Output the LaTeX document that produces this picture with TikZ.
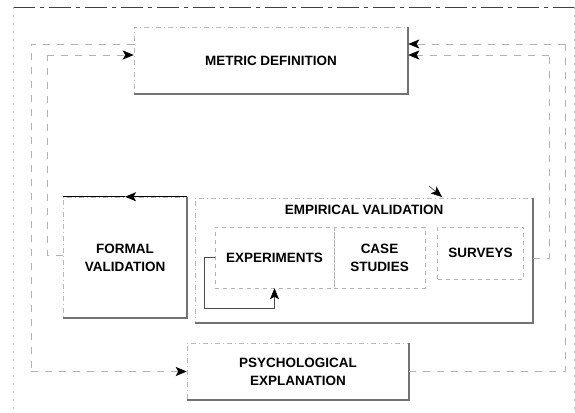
\documentclass[tikz,border=0pt]{standalone}
\usepackage{fontspec}
\setmainfont{Liberation Sans}
\usetikzlibrary{arrows.meta}
\begin{document}
\begin{tikzpicture}[x=1pt,y=-1pt,
  boxtext/.style={font=\bfseries\fontsize{13.5}{18}\selectfont, align=center},
  panel/.style={draw=gray!55, line width=0.5pt,
    dash pattern=on 5pt off 3pt on 1pt off 3pt, inner sep=0pt},
  subpanel/.style={draw=gray!60, line width=0.5pt,
    dash pattern=on 4pt off 4pt, inner sep=0pt},
  shade/.style={draw=black!55, line width=2.2pt},
  conn/.style={draw=gray!60, line width=0.7pt, dash pattern=on 7pt off 7pt},
  tipped/.style={-{Stealth[length=11pt,width=9pt,inset=2.5pt,black]}},
  frametop/.style={draw=black!75, line width=0.7pt, dash pattern=on 22pt off 5pt on 4pt off 5pt},
  frameside/.style={draw=gray!55, line width=0.6pt, dash pattern=on 2pt off 6pt}]

\useasboundingbox (0,0) rectangle (575,412);

% outer frame
\draw[frametop] (13,7) -- (574,7);
\draw[frameside] (13,7) -- (13,412);
\draw[frameside] (574,7) -- (574,412);

% main boxes
\node[panel, boxtext, minimum width=274pt, minimum height=67pt] (metric) at (271,60.5) {METRIC DEFINITION};
\node[panel, boxtext, minimum width=124pt, minimum height=121pt] (formal) at (125,257.5) {FORMAL\\VALIDATION};
\node[panel, minimum width=338pt, minimum height=125pt] (empirical) at (364,260.5) {};
\node[boxtext] (emptitle) at (364,210) {EMPIRICAL VALIDATION};
\node[panel, boxtext, minimum width=222pt, minimum height=57pt] (psych) at (298,371.5) {PSYCHOLOGICAL\\EXPLANATION};

% inner boxes of the empirical part
\node[subpanel, boxtext, minimum width=119pt, minimum height=61pt] (exper) at (274.5,257.5) {EXPERIMENTS};
\node[subpanel, boxtext, minimum width=91pt, minimum height=61pt] (case) at (379.5,257.5) {CASE\\STUDIES};
\node[subpanel, boxtext, minimum width=86pt, minimum height=52pt] (surveys) at (480.5,253) {SURVEYS};

% drop shadows on the main boxes
\foreach \b in {metric, formal, empirical, psych}
  \draw[shade] (\b.south west) -- (\b.south east) -- (\b.north east);

% loop points
\coordinate (louter) at (31,44);
\coordinate (linner) at (47,55);
\coordinate (router) at (565,44);
\coordinate (rinner) at (549,55);
\coordinate (loopa) at (204,257.5);
\coordinate (loopb) at (204,308);
\coordinate (empTipA) at (429,186);
\coordinate (empTipB) at (442,197);

% metric definition -> psychological explanation (left)
\draw[conn] (metric.west |- louter) -- (louter) -- (louter |- psych.west);
\draw[conn, tipped] (louter |- psych.west) -- (psych.west);

% psychological explanation -> metric definition (right)
\draw[conn] (psych.east) -- (router |- psych.east) -- (router);
\draw[conn, tipped] (router) -- (metric.east |- router);

% formal validation -> metric definition
\draw[conn] (formal.west |- 0,255) -- (linner |- 0,255) -- (linner);
\draw[conn, tipped] (linner) -- (metric.west |- linner);

% empirical validation -> metric definition
\draw[conn] (empirical.east |- 0,258) -- (rinner |- 0,258) -- (rinner);
\draw[conn, tipped] (rinner) -- (metric.east |- rinner);

% arrows on top of the validation boxes
\draw[black, line width=0.8pt, tipped] (formal.north east) -- (formal.north);
\draw[black, line width=0.8pt] (formal.north) -- (formal.north west);
\draw[black, tipped] (empTipA) -- (empTipB);

% experiments self loop
\draw[black!70, line width=0.6pt] (exper.west) -- (loopa) -- (loopb) -- (loopb -| exper.south);
\draw[black!70, line width=0.6pt, tipped] (loopb -| exper.south) -- (exper.south);

\end{tikzpicture}
\end{document}
